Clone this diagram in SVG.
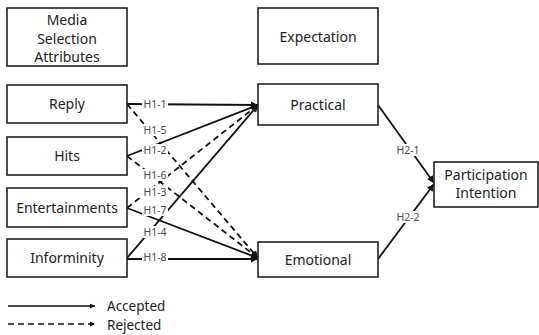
<svg xmlns="http://www.w3.org/2000/svg" width="539" height="335" viewBox="0 0 539 335">
<defs>
<marker id="arr" viewBox="0 0 10 10" refX="10" refY="5" markerWidth="9" markerHeight="7" markerUnits="userSpaceOnUse" orient="auto">
<path d="M0,0 L10,5 L0,10 z" fill="#111"/>
</marker>
<marker id="arrs" viewBox="0 0 10 10" refX="10" refY="5" markerWidth="6" markerHeight="5" markerUnits="userSpaceOnUse" orient="auto">
<path d="M0,0 L10,5 L0,10 z" fill="#111"/>
</marker>
</defs>
<style>
.box{fill:#fff;stroke:#222;stroke-width:1.6}
.t{font-family:"Noto Sans","Open Sans",sans-serif;font-size:14px;fill:#222;text-anchor:middle}
.l{font-family:"Noto Sans","Open Sans",sans-serif;font-size:10.5px;fill:#4a4a4a;text-anchor:middle}
.s{stroke:#111;stroke-width:1.8;fill:none;marker-end:url(#arr)}
.d{stroke:#111;stroke-width:1.8;fill:none;stroke-dasharray:6 4;marker-end:url(#arr)}
.lb{fill:#fff}
.lg{font-family:"Noto Sans","Open Sans",sans-serif;font-size:13.5px;fill:#222}
</style>
<rect width="539" height="335" fill="#fff"/>
<g id="connectors">
<line class="s" x1="127" y1="104" x2="258" y2="105"/>
<line class="d" x1="127" y1="104" x2="258" y2="258"/>
<line class="s" x1="127" y1="156" x2="258" y2="105"/>
<line class="d" x1="127" y1="156" x2="258" y2="258"/>
<line class="d" x1="127" y1="208" x2="258" y2="105"/>
<line class="s" x1="127" y1="208" x2="258" y2="258"/>
<line class="s" x1="127" y1="258" x2="258" y2="105"/>
<line class="s" x1="127" y1="259" x2="258" y2="259"/>
<line class="s" x1="378" y1="105" x2="434" y2="183"/>
<line class="s" x1="378" y1="259" x2="434" y2="184"/>
<g id="labels">
<rect class="lb" x="142" y="98" width="26" height="12"/><text class="l" x="155" y="108">H1-1</text>
<rect class="lb" x="142" y="124" width="26" height="12"/><text class="l" x="155" y="134">H1-5</text>
<rect class="lb" x="142" y="144" width="26" height="12"/><text class="l" x="155" y="154">H1-2</text>
<rect class="lb" x="142" y="169" width="26" height="12"/><text class="l" x="155" y="179">H1-6</text>
<rect class="lb" x="142" y="186" width="26" height="12"/><text class="l" x="155" y="196">H1-3</text>
<rect class="lb" x="142" y="204" width="26" height="12"/><text class="l" x="155" y="214">H1-7</text>
<rect class="lb" x="142" y="226" width="26" height="12"/><text class="l" x="155" y="236">H1-4</text>
<rect class="lb" x="142" y="251" width="26" height="12"/><text class="l" x="155" y="261">H1-8</text>
<rect class="lb" x="395" y="144" width="26" height="12"/><text class="l" x="408" y="154">H2-1</text>
<rect class="lb" x="395" y="211" width="26" height="12"/><text class="l" x="408" y="221">H2-2</text>
</g>
</g>
<g id="media"><rect class="box" x="7" y="8" width="120" height="58"/>
<text class="t" x="67" y="25">Media</text><text class="t" x="67" y="43.5">Selection</text><text class="t" x="67" y="62">Attributes</text></g>
<g id="reply"><rect class="box" x="7" y="85" width="120" height="38"/><text class="t" x="67" y="109">Reply</text></g>
<g id="hits"><rect class="box" x="7" y="137" width="120" height="38"/><text class="t" x="67" y="161">Hits</text></g>
<g id="entertainments"><rect class="box" x="7" y="188" width="120" height="39"/><text class="t" x="67" y="213">Entertainments</text></g>
<g id="informinity"><rect class="box" x="7" y="239" width="120" height="38"/><text class="t" x="67" y="263">Informinity</text></g>
<g id="expectation"><rect class="box" x="258" y="8" width="120" height="56"/><text class="t" x="318" y="41.5">Expectation</text></g>
<g id="practical"><rect class="box" x="258" y="84" width="120" height="41"/><text class="t" x="318" y="110">Practical</text></g>
<g id="emotional"><rect class="box" x="258" y="242" width="120" height="35"/><text class="t" x="318" y="265">Emotional</text></g>
<g id="participation"><rect class="box" x="434" y="162" width="104" height="45"/><text class="t" x="486" y="180">Participation</text><text class="t" x="486" y="198">Intention</text></g>
<g id="legend">
<line x1="8" y1="306" x2="95" y2="306" stroke="#111" stroke-width="1.5" marker-end="url(#arrs)"/>
<line x1="8" y1="324" x2="95" y2="324" stroke="#111" stroke-width="1.5" stroke-dasharray="6 4" marker-end="url(#arrs)"/>
<text class="lg" x="107" y="310.5">Accepted</text>
<text class="lg" x="107" y="329.5">Rejected</text>
</g>
</svg>
